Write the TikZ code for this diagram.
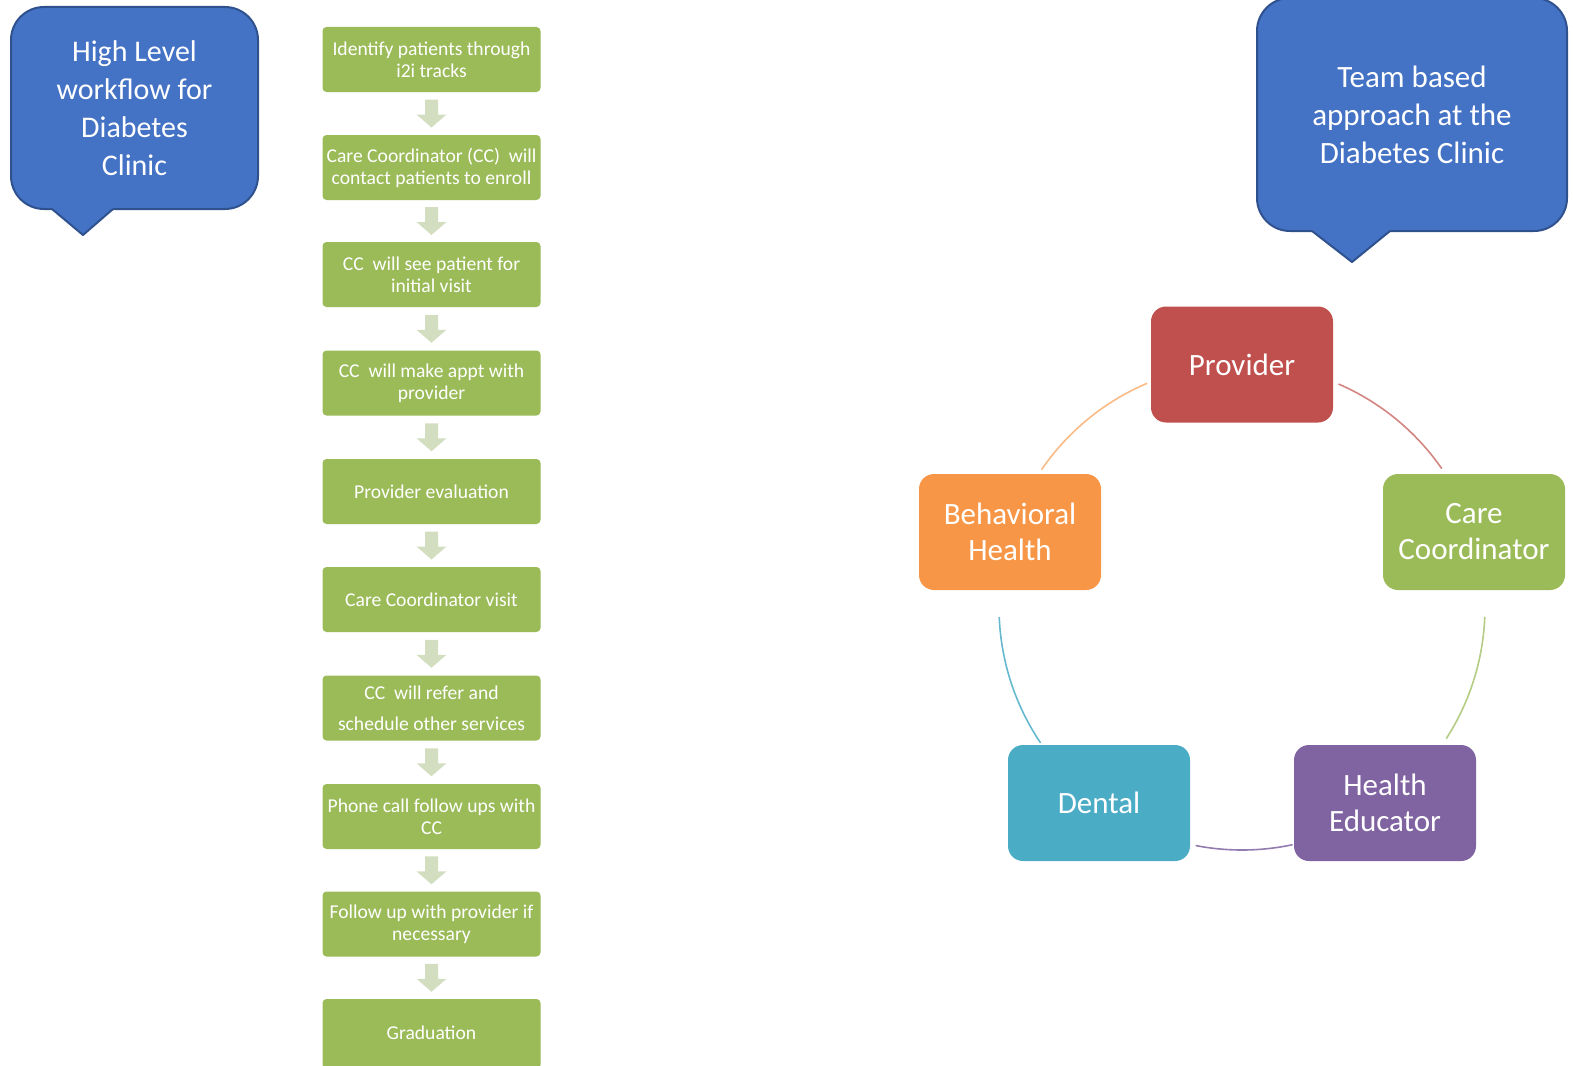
\documentclass[tikz,border=0pt]{standalone}
\usepackage{fontspec}
\setmainfont{Carlito}
\usetikzlibrary{calc}
\definecolor{calloutfill}{HTML}{4472C4}
\definecolor{calloutedge}{HTML}{2F528F}
\definecolor{flowgreen}{HTML}{9BBB59}
\definecolor{flowarrowc}{HTML}{D2DEBF}
\definecolor{provred}{HTML}{C0504D}
\definecolor{ccgreen}{HTML}{9BBB59}
\definecolor{hepurple}{HTML}{8064A2}
\definecolor{dentblue}{HTML}{4BACC6}
\definecolor{bhorange}{HTML}{F79646}

\begin{document}
\begin{tikzpicture}[x=1pt,y=-1pt,
  callout/.style={draw=calloutedge, line width=2pt, fill=calloutfill, rounded corners=33pt,
    text=white, align=center, inner sep=0pt, font=\fontsize{30}{38}\selectfont},
  flowbox/.style={fill=flowgreen, rounded corners=4pt, minimum width=218pt, minimum height=65pt,
    text=white, align=center, inner sep=0pt, font=\fontsize{19.6}{22}\selectfont},
  teambox/.style={rounded corners=15pt, minimum width=182pt, minimum height=116pt,
    text=white, align=center, inner sep=0pt, font=\fontsize{31}{36}\selectfont},
  ring/.style={line width=1.6pt}
]
\useasboundingbox (0,0) rectangle (1573,1065);

% ---------- speech-bubble titles ----------
\node[callout, minimum width=247pt, minimum height=202pt] (titleL) at (134.5,108)
  {High Level\\workflow for\\Diabetes\\Clinic};
\fill[calloutfill] (52,200) -- (52,209) -- (83,235) -- (113,209) -- (113,200) -- cycle;
\draw[calloutedge, line width=2pt, line join=round] (52,209) -- (83,235) -- (113,209);

\node[callout, minimum width=310pt, minimum height=233pt, font=\fontsize{31}{38}\selectfont] (titleR) at (1412,114.5)
  {Team based\\approach at the\\Diabetes Clinic};
\fill[calloutfill] (1312,222) -- (1312,231) -- (1352,262) -- (1390,231) -- (1390,222) -- cycle;
\draw[calloutedge, line width=2pt, line join=round] (1312,231) -- (1352,262) -- (1390,231);

% ---------- workflow column ----------
\node[flowbox] (f1) at (431.5,59.5) {Identify patients through\\i2i tracks};
\node[flowbox] (f2) at (431.5,167.5) {Care Coordinator (CC) \ will\\contact patients to enroll};
\node[flowbox] (f3) at (431.5,274.5) {CC \ will see patient for\\initial visit};
\node[flowbox] (f4) at (431.5,383) {CC \ will make appt with\\provider};
\node[flowbox] (f5) at (431.5,491.5) {Provider evaluation};
\node[flowbox] (f6) at (431.5,599.5) {Care Coordinator visit};
\node[flowbox] (f7) at (431.5,708) {CC \ will refer and\\[9pt]schedule other services};
\node[flowbox] (f8) at (431.5,816.5) {Phone call follow ups with\\CC};
\node[flowbox] (f9) at (431.5,924) {Follow up with provider if\\necessary};
\node[flowbox, minimum height=70pt] (f10) at (431.5,1034) {\raisebox{2.5pt}{Graduation}};

\foreach \a/\b in {f1/f2,f2/f3,f3/f4,f4/f5,f5/f6,f6/f7,f7/f8,f8/f9,f9/f10}{
  \coordinate (mid) at ($(\a.south)!0.5!(\b.north)$);
  \fill[flowarrowc] ($(mid)+(-6.5,-14)$) -- ($(mid)+(6.5,-14)$) -- ($(mid)+(6.5,1)$)
    -- ($(mid)+(15,1)$) -- ($(mid)+(0,14)$) -- ($(mid)+(-15,1)$) -- ($(mid)+(-6.5,1)$) -- cycle;
}

% ---------- care team ring ----------
\coordinate (hub) at (1242,607);
\draw[ring, provred!70] ([shift={(-66.6:243)}]hub) arc[start angle=-66.6, end angle=-34.7, radius=243];
\draw[ring, ccgreen!75] ([shift={(2.3:243)}]hub) arc[start angle=2.3, end angle=32.8, radius=243];
\draw[ring, hepurple!85] ([shift={(78:243)}]hub) arc[start angle=78, end angle=101, radius=243];
\draw[ring, dentblue!85] ([shift={(146:243)}]hub) arc[start angle=146, end angle=177.6, radius=243];
\draw[ring, bhorange!65] ([shift={(214.4:243)}]hub) arc[start angle=214.4, end angle=247, radius=243];

\node[teambox, fill=provred] (prov) at (1242,364.5) {Provider};
\node[teambox, fill=ccgreen] (cc) at (1474,532) {Care\\Coordinator};
\node[teambox, fill=hepurple] (he) at (1385,803) {Health\\Educator};
\node[teambox, fill=dentblue] (dent) at (1099,803) {Dental};
\node[teambox, fill=bhorange] (bh) at (1010,532) {Behavioral\\Health};
\end{tikzpicture}
\end{document}
